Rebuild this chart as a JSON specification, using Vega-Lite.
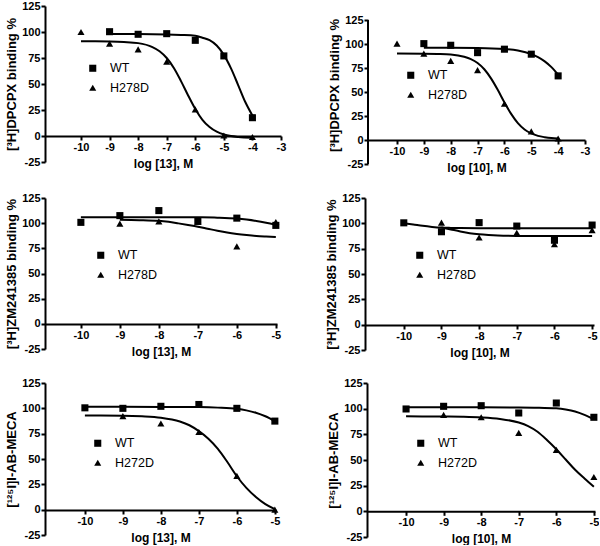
{
  "$schema": "https://vega.github.io/schema/vega-lite/v6.json",
  "padding": {"left": 5, "top": 0, "right": 0, "bottom": 0},
  "background": "white",
  "datasets": {
    "pts": [
      {"p":"A","s":"WT","x":-9,"y":100.3},{"p":"A","s":"WT","x":-8,"y":97.8},{"p":"A","s":"WT","x":-7,"y":98.4},{"p":"A","s":"WT","x":-6,"y":92},{"p":"A","s":"WT","x":-5,"y":77},{"p":"A","s":"WT","x":-4,"y":17.6},
      {"p":"A","s":"H278D","x":-10,"y":100},{"p":"A","s":"H278D","x":-9,"y":88.8},{"p":"A","s":"H278D","x":-8,"y":83.3},{"p":"A","s":"H278D","x":-7,"y":71.5},{"p":"A","s":"H278D","x":-6,"y":25.6},{"p":"A","s":"H278D","x":-5,"y":0.5},{"p":"A","s":"H278D","x":-4,"y":-1},
      {"p":"B","s":"WT","x":-9,"y":100.4},{"p":"B","s":"WT","x":-8,"y":98.7},{"p":"B","s":"WT","x":-7,"y":91},{"p":"B","s":"WT","x":-6,"y":94.6},{"p":"B","s":"WT","x":-5,"y":89.4},{"p":"B","s":"WT","x":-4,"y":66.8},
      {"p":"B","s":"H278D","x":-10,"y":100.4},{"p":"B","s":"H278D","x":-9,"y":90},{"p":"B","s":"H278D","x":-8,"y":82.4},{"p":"B","s":"H278D","x":-7,"y":72.8},{"p":"B","s":"H278D","x":-6,"y":37.8},{"p":"B","s":"H278D","x":-5,"y":9},{"p":"B","s":"H278D","x":-4,"y":1.5},
      {"p":"C","s":"WT","x":-10,"y":100.8},{"p":"C","s":"WT","x":-9,"y":107.5},{"p":"C","s":"WT","x":-8,"y":112.5},{"p":"C","s":"WT","x":-7,"y":101.8},{"p":"C","s":"WT","x":-6,"y":105},{"p":"C","s":"WT","x":-5,"y":97.8},
      {"p":"C","s":"H278D","x":-9,"y":99.5},{"p":"C","s":"H278D","x":-8,"y":101.8},{"p":"C","s":"H278D","x":-7,"y":101.5},{"p":"C","s":"H278D","x":-6,"y":77},{"p":"C","s":"H278D","x":-5,"y":101.2},
      {"p":"D","s":"WT","x":-10,"y":100.5},{"p":"D","s":"WT","x":-9,"y":91.7},{"p":"D","s":"WT","x":-8,"y":100.7},{"p":"D","s":"WT","x":-7,"y":97.3},{"p":"D","s":"WT","x":-6,"y":83.3},{"p":"D","s":"WT","x":-5,"y":98.3},
      {"p":"D","s":"H278D","x":-9,"y":100.7},{"p":"D","s":"H278D","x":-8,"y":86},{"p":"D","s":"H278D","x":-7,"y":90.7},{"p":"D","s":"H278D","x":-6,"y":79.3},{"p":"D","s":"H278D","x":-5,"y":93.3},
      {"p":"E","s":"WT","x":-10,"y":100.5},{"p":"E","s":"WT","x":-9,"y":100},{"p":"E","s":"WT","x":-8,"y":102},{"p":"E","s":"WT","x":-7,"y":103.8},{"p":"E","s":"WT","x":-6,"y":100},{"p":"E","s":"WT","x":-5,"y":87.4},
      {"p":"E","s":"H272D","x":-9,"y":92.3},{"p":"E","s":"H272D","x":-8,"y":85},{"p":"E","s":"H272D","x":-7,"y":76.6},{"p":"E","s":"H272D","x":-6,"y":33.4},{"p":"E","s":"H272D","x":-5,"y":0},
      {"p":"F","s":"WT","x":-10,"y":99.7},{"p":"F","s":"WT","x":-9,"y":102.3},{"p":"F","s":"WT","x":-8,"y":102.9},{"p":"F","s":"WT","x":-7,"y":95.8},{"p":"F","s":"WT","x":-6,"y":105.5},{"p":"F","s":"WT","x":-5,"y":91.6},
      {"p":"F","s":"H272D","x":-9,"y":93.9},{"p":"F","s":"H272D","x":-8,"y":91.6},{"p":"F","s":"H272D","x":-7,"y":76.4},{"p":"F","s":"H272D","x":-6,"y":59.9},{"p":"F","s":"H272D","x":-5,"y":33.4}
    ],
    "crv": [
      {"p":"A","s":"WT","x":-9,"y":98},{"p":"A","s":"WT","x":-8,"y":98},{"p":"A","s":"WT","x":-7,"y":97.7},{"p":"A","s":"WT","x":-6.5,"y":97.2},{"p":"A","s":"WT","x":-6,"y":96.3},{"p":"A","s":"WT","x":-5.75,"y":94.5},{"p":"A","s":"WT","x":-5.5,"y":92.2},{"p":"A","s":"WT","x":-5.25,"y":87},{"p":"A","s":"WT","x":-5,"y":78},{"p":"A","s":"WT","x":-4.75,"y":65},{"p":"A","s":"WT","x":-4.5,"y":49},{"p":"A","s":"WT","x":-4.25,"y":32.7},{"p":"A","s":"WT","x":-4,"y":19.7},
      {"p":"A","s":"H278D","x":-10,"y":91},{"p":"A","s":"H278D","x":-9.5,"y":91},{"p":"A","s":"H278D","x":-9,"y":90.8},{"p":"A","s":"H278D","x":-8.5,"y":90.3},{"p":"A","s":"H278D","x":-8,"y":89.3},{"p":"A","s":"H278D","x":-7.5,"y":85.5},{"p":"A","s":"H278D","x":-7.25,"y":81.5},{"p":"A","s":"H278D","x":-7,"y":75},{"p":"A","s":"H278D","x":-6.75,"y":65.4},{"p":"A","s":"H278D","x":-6.5,"y":52.8},{"p":"A","s":"H278D","x":-6.25,"y":39},{"p":"A","s":"H278D","x":-6,"y":26},{"p":"A","s":"H278D","x":-5.75,"y":15.6},{"p":"A","s":"H278D","x":-5.5,"y":8.6},{"p":"A","s":"H278D","x":-5.25,"y":4.1},{"p":"A","s":"H278D","x":-5,"y":1.4},{"p":"A","s":"H278D","x":-4.75,"y":-0.1},{"p":"A","s":"H278D","x":-4.5,"y":-0.9},{"p":"A","s":"H278D","x":-4,"y":-1.6},
      {"p":"B","s":"WT","x":-9,"y":96},{"p":"B","s":"WT","x":-8,"y":96},{"p":"B","s":"WT","x":-7,"y":95.8},{"p":"B","s":"WT","x":-6,"y":94.8},{"p":"B","s":"WT","x":-5.5,"y":93.2},{"p":"B","s":"WT","x":-5,"y":89.5},{"p":"B","s":"WT","x":-4.75,"y":86.3},{"p":"B","s":"WT","x":-4.5,"y":81.9},{"p":"B","s":"WT","x":-4.25,"y":75.9},{"p":"B","s":"WT","x":-4,"y":68},
      {"p":"B","s":"H278D","x":-10,"y":90},{"p":"B","s":"H278D","x":-9,"y":89.9},{"p":"B","s":"H278D","x":-8.5,"y":89.6},{"p":"B","s":"H278D","x":-8,"y":89},{"p":"B","s":"H278D","x":-7.5,"y":86.7},{"p":"B","s":"H278D","x":-7.25,"y":84.3},{"p":"B","s":"H278D","x":-7,"y":80.2},{"p":"B","s":"H278D","x":-6.75,"y":73.7},{"p":"B","s":"H278D","x":-6.5,"y":64.2},{"p":"B","s":"H278D","x":-6.25,"y":52.3},{"p":"B","s":"H278D","x":-6,"y":39.2},{"p":"B","s":"H278D","x":-5.75,"y":27.2},{"p":"B","s":"H278D","x":-5.5,"y":17.6},{"p":"B","s":"H278D","x":-5.25,"y":11},{"p":"B","s":"H278D","x":-5,"y":6.9},{"p":"B","s":"H278D","x":-4.75,"y":4.3},{"p":"B","s":"H278D","x":-4.5,"y":2.9},{"p":"B","s":"H278D","x":-4.25,"y":2},{"p":"B","s":"H278D","x":-4,"y":1.6},
      {"p":"C","s":"WT","x":-10,"y":106},{"p":"C","s":"WT","x":-9,"y":106},{"p":"C","s":"WT","x":-8,"y":106},{"p":"C","s":"WT","x":-7,"y":105.8},{"p":"C","s":"WT","x":-6.5,"y":105.5},{"p":"C","s":"WT","x":-6,"y":104.6},{"p":"C","s":"WT","x":-5.75,"y":103.6},{"p":"C","s":"WT","x":-5.5,"y":102.2},{"p":"C","s":"WT","x":-5.25,"y":100.4},{"p":"C","s":"WT","x":-5,"y":98.3},
      {"p":"C","s":"H278D","x":-9,"y":103.3},{"p":"C","s":"H278D","x":-8.5,"y":103},{"p":"C","s":"H278D","x":-8,"y":102.3},{"p":"C","s":"H278D","x":-7.75,"y":101.3},{"p":"C","s":"H278D","x":-7.5,"y":99.8},{"p":"C","s":"H278D","x":-7.25,"y":98.2},{"p":"C","s":"H278D","x":-7,"y":96.5},{"p":"C","s":"H278D","x":-6.75,"y":94.5},{"p":"C","s":"H278D","x":-6.5,"y":92.5},{"p":"C","s":"H278D","x":-6.25,"y":90.7},{"p":"C","s":"H278D","x":-6,"y":89.3},{"p":"C","s":"H278D","x":-5.75,"y":88.2},{"p":"C","s":"H278D","x":-5.5,"y":87.3},{"p":"C","s":"H278D","x":-5.25,"y":86.7},{"p":"C","s":"H278D","x":-5,"y":86.2},
      {"p":"D","s":"WT","x":-10,"y":100},{"p":"D","s":"WT","x":-9.75,"y":98.8},{"p":"D","s":"WT","x":-9.5,"y":97.5},{"p":"D","s":"WT","x":-9.25,"y":96.5},{"p":"D","s":"WT","x":-9,"y":95.8},{"p":"D","s":"WT","x":-8.75,"y":95.5},{"p":"D","s":"WT","x":-8.5,"y":95.3},{"p":"D","s":"WT","x":-8,"y":95.2},{"p":"D","s":"WT","x":-7,"y":95.2},{"p":"D","s":"WT","x":-6,"y":95.2},{"p":"D","s":"WT","x":-5,"y":95.2},
      {"p":"D","s":"H278D","x":-9,"y":96},{"p":"D","s":"H278D","x":-8.75,"y":94},{"p":"D","s":"H278D","x":-8.5,"y":92},{"p":"D","s":"H278D","x":-8.25,"y":90.3},{"p":"D","s":"H278D","x":-8,"y":89.2},{"p":"D","s":"H278D","x":-7.75,"y":88.5},{"p":"D","s":"H278D","x":-7.5,"y":88},{"p":"D","s":"H278D","x":-7,"y":87.6},{"p":"D","s":"H278D","x":-6,"y":87.4},{"p":"D","s":"H278D","x":-5,"y":87.4},
      {"p":"E","s":"WT","x":-10,"y":101.5},{"p":"E","s":"WT","x":-9,"y":101.5},{"p":"E","s":"WT","x":-8,"y":101.4},{"p":"E","s":"WT","x":-7,"y":101.2},{"p":"E","s":"WT","x":-6.5,"y":100.7},{"p":"E","s":"WT","x":-6,"y":99.5},{"p":"E","s":"WT","x":-5.75,"y":98},{"p":"E","s":"WT","x":-5.5,"y":95.7},{"p":"E","s":"WT","x":-5.25,"y":92.2},{"p":"E","s":"WT","x":-5,"y":87.5},
      {"p":"E","s":"H272D","x":-10,"y":93},{"p":"E","s":"H272D","x":-9,"y":92.8},{"p":"E","s":"H272D","x":-8.5,"y":92.2},{"p":"E","s":"H272D","x":-8,"y":90.8},{"p":"E","s":"H272D","x":-7.5,"y":87},{"p":"E","s":"H272D","x":-7.25,"y":83.3},{"p":"E","s":"H272D","x":-7,"y":77.5},{"p":"E","s":"H272D","x":-6.75,"y":70},{"p":"E","s":"H272D","x":-6.5,"y":60},{"p":"E","s":"H272D","x":-6.25,"y":47},{"p":"E","s":"H272D","x":-6,"y":33},{"p":"E","s":"H272D","x":-5.75,"y":21.5},{"p":"E","s":"H272D","x":-5.5,"y":12.5},{"p":"E","s":"H272D","x":-5.25,"y":5.5},{"p":"E","s":"H272D","x":-5,"y":0.5},
      {"p":"F","s":"WT","x":-10,"y":101.3},{"p":"F","s":"WT","x":-9,"y":101.3},{"p":"F","s":"WT","x":-8,"y":101.3},{"p":"F","s":"WT","x":-7,"y":101.2},{"p":"F","s":"WT","x":-6.5,"y":101},{"p":"F","s":"WT","x":-6,"y":100.3},{"p":"F","s":"WT","x":-5.75,"y":99.2},{"p":"F","s":"WT","x":-5.5,"y":97.3},{"p":"F","s":"WT","x":-5.25,"y":94},{"p":"F","s":"WT","x":-5,"y":89.8},
      {"p":"F","s":"H272D","x":-10,"y":92.5},{"p":"F","s":"H272D","x":-9,"y":92.3},{"p":"F","s":"H272D","x":-8.5,"y":92.1},{"p":"F","s":"H272D","x":-8,"y":91.5},{"p":"F","s":"H272D","x":-7.5,"y":90},{"p":"F","s":"H272D","x":-7,"y":86.5},{"p":"F","s":"H272D","x":-6.75,"y":83},{"p":"F","s":"H272D","x":-6.5,"y":77.5},{"p":"F","s":"H272D","x":-6.25,"y":69.5},{"p":"F","s":"H272D","x":-6,"y":60.5},{"p":"F","s":"H272D","x":-5.75,"y":50.5},{"p":"F","s":"H272D","x":-5.5,"y":40.5},{"p":"F","s":"H272D","x":-5.25,"y":32},{"p":"F","s":"H272D","x":-5,"y":24}
    ]
  },
  "columns": 1,
  "align": "none",
  "spacing": 19,
  "resolve": {"scale": {"x": "independent", "y": "independent", "shape": "independent"}, "axis": {"x": "independent", "y": "independent"}, "legend": {"shape": "independent"}},
  "concat": [
    {
      "spacing": 42,
      "resolve": {"scale": {"x": "independent", "y": "independent", "shape": "independent"}, "axis": {"x": "independent", "y": "independent"}, "legend": {"shape": "independent"}},
      "hconcat": [
        {
          "width": 236, "height": 156,
          "encoding": {
            "x": {"field": "x", "type": "quantitative", "scale": {"domain": [-11.26, -3], "nice": false, "zero": false}, "axis": {"title": "log [13], M", "values": [-10,-9,-8,-7,-6,-5,-4,-3], "offset": -26, "labelExpr": "'' + datum.value"}},
            "y": {"field": "y", "type": "quantitative", "scale": {"domain": [-25, 125], "nice": false, "zero": false}, "axis": {"title": "[³H]DPCPX binding %", "values": [-25,0,25,50,75,100,125], "labelExpr": "'' + datum.value"}}
          },
          "layer": [
            {"data": {"name": "crv"}, "transform": [{"filter": "datum.p == 'A'"}], "mark": {"type": "line", "color": "black", "strokeWidth": 2, "interpolate": "monotone"}, "encoding": {"detail": {"field": "s"}}},
            {"data": {"name": "pts"}, "transform": [{"filter": "datum.p == 'A'"}], "mark": {"type": "point", "filled": true, "color": "black", "opacity": 1, "size": 50},
             "encoding": {"shape": {"field": "s", "type": "nominal", "scale": {"domain": ["WT", "H278D"], "range": ["square", "triangle-up"]}, "legend": {"orient": "none", "legendX": 41.5, "legendY": 56}}}}
          ]
        },
        {
          "width": 217, "height": 158,
          "encoding": {
            "x": {"field": "x", "type": "quantitative", "scale": {"domain": [-11.08, -3], "nice": false, "zero": false}, "axis": {"title": "log [10], M", "values": [-10,-9,-8,-7,-6,-5,-4,-3], "offset": -24, "labelExpr": "'' + datum.value"}},
            "y": {"field": "y", "type": "quantitative", "scale": {"domain": [-25, 139.6], "nice": false, "zero": false}, "axis": {"title": "[³H]DPCPX binding %", "domain": false, "values": [-25,0,25,50,75,100,125], "labelExpr": "'' + datum.value"}}
          },
          "layer": [
            {"data": {"values": [{"ax": -11.08, "lo": -25, "hi": 125}]}, "mark": {"type": "rule", "color": "black", "strokeWidth": 2}, "encoding": {"x": {"field": "ax", "type": "quantitative"}, "y": {"field": "lo", "type": "quantitative"}, "y2": {"field": "hi"}}},
            {"data": {"name": "crv"}, "transform": [{"filter": "datum.p == 'B'"}], "mark": {"type": "line", "color": "black", "strokeWidth": 2, "interpolate": "monotone"}, "encoding": {"detail": {"field": "s"}}},
            {"data": {"name": "pts"}, "transform": [{"filter": "datum.p == 'B'"}], "mark": {"type": "point", "filled": true, "color": "black", "opacity": 1, "size": 50},
             "encoding": {"shape": {"field": "s", "type": "nominal", "scale": {"domain": ["WT", "H278D"], "range": ["square", "triangle-up"]}, "legend": {"orient": "none", "legendX": 36.5, "legendY": 63}}}}
          ]
        }
      ]
    },
    {
      "spacing": 44,
      "resolve": {"scale": {"x": "independent", "y": "independent", "shape": "independent"}, "axis": {"x": "independent", "y": "independent"}, "legend": {"shape": "independent"}},
      "hconcat": [
        {
          "width": 232, "height": 151,
          "encoding": {
            "x": {"field": "x", "type": "quantitative", "scale": {"domain": [-10.92, -4.97], "nice": false, "zero": false}, "axis": {"title": "log [13], M", "values": [-10,-9,-8,-7,-6,-5], "offset": -25, "labelExpr": "'' + datum.value"}},
            "y": {"field": "y", "type": "quantitative", "scale": {"domain": [-25, 125], "nice": false, "zero": false}, "axis": {"title": "[³H]ZM241385 binding %", "values": [-25,0,25,50,75,100,125], "labelExpr": "'' + datum.value"}}
          },
          "layer": [
            {"data": {"name": "crv"}, "transform": [{"filter": "datum.p == 'C'"}], "mark": {"type": "line", "color": "black", "strokeWidth": 2, "interpolate": "monotone"}, "encoding": {"detail": {"field": "s"}}},
            {"data": {"name": "pts"}, "transform": [{"filter": "datum.p == 'C'"}], "mark": {"type": "point", "filled": true, "color": "black", "opacity": 1, "size": 50},
             "encoding": {"shape": {"field": "s", "type": "nominal", "scale": {"domain": ["WT", "H278D"], "range": ["square", "triangle-up"]}, "legend": {"orient": "none", "legendX": 49.5, "legendY": 51}}}}
          ]
        },
        {
          "width": 229, "height": 152,
          "encoding": {
            "x": {"field": "x", "type": "quantitative", "scale": {"domain": [-11.03, -4.95], "nice": false, "zero": false}, "axis": {"title": "log [10], M", "values": [-10,-9,-8,-7,-6,-5], "offset": -25, "labelExpr": "'' + datum.value"}},
            "y": {"field": "y", "type": "quantitative", "scale": {"domain": [-25, 125], "nice": false, "zero": false}, "axis": {"title": "[³H]ZM241385 binding %", "values": [-25,0,25,50,75,100,125], "labelExpr": "'' + datum.value"}}
          },
          "layer": [
            {"data": {"name": "crv"}, "transform": [{"filter": "datum.p == 'D'"}], "mark": {"type": "line", "color": "black", "strokeWidth": 2, "interpolate": "monotone"}, "encoding": {"detail": {"field": "s"}}},
            {"data": {"name": "pts"}, "transform": [{"filter": "datum.p == 'D'"}], "mark": {"type": "point", "filled": true, "color": "black", "opacity": 1, "size": 50},
             "encoding": {"shape": {"field": "s", "type": "nominal", "scale": {"domain": ["WT", "H278D"], "range": ["square", "triangle-up"]}, "legend": {"orient": "none", "legendX": 48.5, "legendY": 51}}}}
          ]
        }
      ]
    },
    {
      "spacing": 47,
      "resolve": {"scale": {"x": "independent", "y": "independent", "shape": "independent"}, "axis": {"x": "independent", "y": "independent"}, "legend": {"shape": "independent"}},
      "hconcat": [
        {
          "width": 231, "height": 152,
          "encoding": {
            "x": {"field": "x", "type": "quantitative", "scale": {"domain": [-11.05, -4.97], "nice": false, "zero": false}, "axis": {"title": "log [13], M", "values": [-10,-9,-8,-7,-6,-5], "offset": -25, "labelExpr": "'' + datum.value"}},
            "y": {"field": "y", "type": "quantitative", "scale": {"domain": [-25, 125], "nice": false, "zero": false}, "axis": {"title": "[¹²⁵I]I-AB-MECA", "values": [-25,0,25,50,75,100,125], "labelExpr": "'' + datum.value"}}
          },
          "layer": [
            {"data": {"name": "crv"}, "transform": [{"filter": "datum.p == 'E'"}], "mark": {"type": "line", "color": "black", "strokeWidth": 2, "interpolate": "monotone"}, "encoding": {"detail": {"field": "s"}}},
            {"data": {"name": "pts"}, "transform": [{"filter": "datum.p == 'E'"}], "mark": {"type": "point", "filled": true, "color": "black", "opacity": 1, "size": 50},
             "encoding": {"shape": {"field": "s", "type": "nominal", "scale": {"domain": ["WT", "H272D"], "range": ["square", "triangle-up"]}, "legend": {"orient": "none", "legendX": 46.5, "legendY": 54}}}}
          ]
        },
        {
          "width": 228, "height": 154,
          "encoding": {
            "x": {"field": "x", "type": "quantitative", "scale": {"domain": [-11.04, -4.97], "nice": false, "zero": false}, "axis": {"title": "log [10], M", "values": [-10,-9,-8,-7,-6,-5], "offset": -25.7, "labelExpr": "'' + datum.value"}},
            "y": {"field": "y", "type": "quantitative", "scale": {"domain": [-25, 125], "nice": false, "zero": false}, "axis": {"title": "[¹²⁵I]I-AB-MECA", "values": [-25,0,25,50,75,100,125], "labelExpr": "'' + datum.value"}}
          },
          "layer": [
            {"data": {"name": "crv"}, "transform": [{"filter": "datum.p == 'F'"}], "mark": {"type": "line", "color": "black", "strokeWidth": 2, "interpolate": "monotone"}, "encoding": {"detail": {"field": "s"}}},
            {"data": {"name": "pts"}, "transform": [{"filter": "datum.p == 'F'"}], "mark": {"type": "point", "filled": true, "color": "black", "opacity": 1, "size": 50},
             "encoding": {"shape": {"field": "s", "type": "nominal", "scale": {"domain": ["WT", "H272D"], "range": ["square", "triangle-up"]}, "legend": {"orient": "none", "legendX": 47.5, "legendY": 54}}}}
          ]
        }
      ]
    }
  ],
  "config": {
    "view": {"stroke": null},
    "font": "Liberation Sans",
    "axis": {
      "grid": false, "domainColor": "black", "domainWidth": 2, "tickColor": "black", "tickWidth": 2, "tickSize": 4,
      "labelFont": "Liberation Sans", "labelFontWeight": "bold", "labelFontSize": 11, "labelColor": "black", "labelPadding": 1,
      "labelFlush": false, "labelOverlap": false,
      "titleFont": "Liberation Sans", "titleFontWeight": "bold", "titleColor": "black"
    },
    "axisX": {"titleFontSize": 12, "titlePadding": 6},
    "axisY": {"titleFontSize": 13, "titlePadding": 3},
    "legend": {
      "title": null, "labelFont": "Liberation Sans", "labelFontSize": 12.5, "labelFontWeight": "normal", "labelColor": "black",
      "symbolSize": 50, "symbolFillColor": "black", "symbolStrokeWidth": 0, "symbolOpacity": 1, "labelOffset": 11, "rowPadding": 6.5, "padding": 0
    }
  }
}
